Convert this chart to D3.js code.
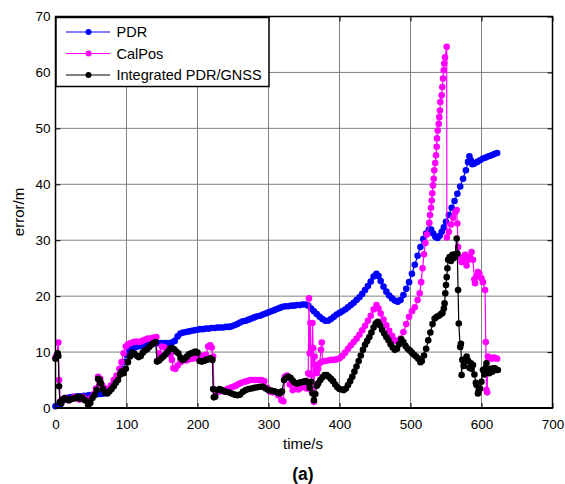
<!DOCTYPE html>
<html><head><meta charset="utf-8">
<script src="https://cdn.jsdelivr.net/npm/d3@7/dist/d3.min.js"></script>
<style>body{margin:0;background:#fff;}svg{display:block;font-family:"Liberation Sans",Arial,sans-serif;}</style>
</head><body><svg id="c" width="565" height="484"></svg>
<script>
const seriesNames = ["PDR", "CalPos", "Integrated PDR/GNSS"];
const seriesColors = ["#0000ff", "#ff00ff", "#000000"];
const xTicks = [0,100,200,300,400,500,600,700];
const yTicks = [0,10,20,30,40,50,60,70];

const pdrT = [0,3,6,9,12,16,20,24,28,32,36,40,44,48,52,56,60,64,68,72,76,80,84,88,92,96,100,104,108,112,116,120,124,128,132,136,140,144,148,152,156,160,164,168,172,176,180,184,188,192,196,200,204,208,212,216,220,224,228,232,236,240,244,248,252,256,260,264,268,272,276,280,284,288,292,296,300,304,308,312,316,320,324,328,332,336,340,344,348,352,356,360,364,368,372,376,380,384,388,392,396,400,404,408,412,416,420,424,428,432,436,440,444,448,452,455,458,462,466,470,474,478,482,486,490,494,498,502,506,510,514,518,522,526,529,532,535,538,541,544,547,550,554,558,562,566,570,574,578,581,583,585,587,590,594,598,602,606,610,614,618,622];
const pdrV = [0.3,0.4,0.5,1.2,1.6,1.8,1.9,2.0,2.0,2.1,2.1,2.2,2.2,2.3,2.3,2.4,2.5,2.5,2.6,3.0,3.5,4.0,4.8,5.6,6.8,8.2,9.5,10.3,10.6,10.8,11.0,11.1,11.2,11.3,11.4,11.5,11.6,11.6,11.6,11.6,11.6,11.6,11.7,12.0,12.8,13.3,13.5,13.6,13.7,13.8,13.9,14.0,14.1,14.1,14.2,14.2,14.3,14.3,14.4,14.4,14.4,14.5,14.5,14.6,14.8,15.0,15.3,15.5,15.6,15.8,16.0,16.2,16.4,16.5,16.7,16.9,17.1,17.3,17.5,17.7,17.9,18.1,18.2,18.2,18.3,18.3,18.4,18.4,18.5,18.5,18.3,17.8,17.3,16.8,16.3,15.9,15.6,15.6,15.9,16.3,16.7,17.0,17.3,17.6,18.0,18.4,18.8,19.3,19.8,20.4,21.1,21.8,22.6,23.5,24.0,23.6,22.7,21.7,20.8,20.1,19.6,19.2,19.0,19.3,20.2,21.3,22.5,24.0,25.6,27.2,28.8,30.2,31.2,31.9,31.9,31.2,30.6,30.4,30.8,31.5,32.3,33.3,34.5,35.8,37.0,38.3,39.6,41.0,42.5,44.0,45.0,44.3,43.6,43.7,44.0,44.3,44.6,44.8,45.0,45.2,45.4,45.6];

const calT = [0,2,4,5,7,10,14,18,22,26,30,34,38,42,46,50,54,57,60,63,66,70,74,78,82,86,90,93,96,99,102,106,110,114,118,122,126,130,134,138,142,143,146,150,154,158,162,164,166,169,172,176,180,184,188,192,196,200,204,208,212,215,218,220,222,223,226,230,234,238,242,246,250,254,258,262,266,270,274,278,282,286,290,294,298,302,306,310,314,318,321,323,326,330,334,338,342,346,350,354,356,357,358,359,360,361,362,363,364,365,366,368,370,372,374,375,376,380,384,388,392,396,400,404,408,412,416,420,424,428,432,436,440,444,448,452,455,458,462,466,470,474,478,482,486,490,494,498,502,506,510,513,515,517,519,521,523,526.5,527.5,528.9,529.9,530.7,531.7,532.7,533.5,534.9,535.9,536.9,537.3,538.3,539.7,540.6,541.5,542,543.9,544.8,545.8,546.8,547.6,548.6,551,551.2,554,557,560,563,565,566,567,569,572,575,577,579,581,583,586,588,590,591,593,595,597,600,602,605,606,607,608,609,611,614,617,620,622];
const calV = [9.0,9.5,11.7,5.0,1.2,1.5,1.8,1.4,1.6,2.0,1.7,1.5,2.0,1.6,1.0,1.8,2.5,3.5,5.6,5.2,4.0,3.5,3.2,4.0,5.0,5.8,7.0,8.2,9.8,11.0,11.4,11.6,11.8,11.9,11.8,12.0,12.2,12.4,12.4,12.6,12.7,8.4,9.8,11.0,10.8,10.0,9.5,8.6,7.1,7.0,7.6,8.2,8.6,8.5,8.7,8.8,8.9,9.1,9.2,9.4,9.5,11.0,11.2,10.8,9.2,3.3,2.8,2.9,3.2,3.0,3.4,3.6,3.8,4.0,4.3,4.5,4.7,4.8,5.0,5.0,5.0,5.0,5.0,4.8,3.6,2.9,2.8,2.9,2.3,1.4,1.2,5.6,5.8,4.2,3.2,3.4,3.3,3.6,3.8,3.5,6.2,19.6,9.8,15.2,6.0,3.0,15.2,10.7,1.1,9.2,7.7,6.2,7.0,8.0,10.4,11.7,8.3,8.4,8.5,8.6,8.6,8.7,8.9,9.3,9.9,10.6,11.2,11.8,12.4,13.1,13.9,14.7,15.6,16.5,17.6,18.4,17.8,16.9,15.8,14.8,13.8,12.9,12.1,11.9,12.4,13.6,15.0,16.3,17.3,18.0,19.3,20.5,22.5,25.0,27.5,29.5,31.0,33.1,34.5,35.8,37.1,38.4,39.8,41.0,42.5,43.8,45.2,46.7,48.2,49.6,50.8,52.0,53.2,54.7,55.9,57.4,58.9,60.4,61.6,62.7,64.6,30.5,31.5,32.8,34.0,35.0,35.4,33.0,28.8,27.0,26.1,26.8,27.4,25.5,26.5,27.0,27.9,26.5,23.0,22.3,23.5,24.3,24.0,23.2,22.5,21.1,11.8,3.2,2.8,9.2,9.0,8.8,9.0,8.9,8.8];

const intT = [0,2,3,4,5,6,8,10,13,16,19,22,25,28,31,34,37,40,43,46,49,52,55,58,60,62,64,67,70,73,76,79,82,85,88,91,93,96,99,102,105,108,111,114,117,120,123,126,129,132,135,138,141,143,146,149,152,155,158,161,164,167,170,173,176,179,182,185,188,191,194,197,200,203,206,209,212,215,218,221,222,223,225,228,231,234,237,240,244,248,252,256,260,264,268,272,276,280,284,288,292,296,300,304,308,312,316,319,322,325,328,331,334,337,340,343,346,349,352,355,358,360,362,364,366,368,370,373,376,379,382,385,388,391,394,397,400,403,406,409,412,415,418,421,424,427,430,433,436,439,442,445,448,451,454,457,460,463,466,469,472,475,478,481,484,487,490,493,496,499,502,505,508,511,514,516,519,522,525,528,531,534,537,540,543,545,547,548,549,550,551,552,553,555,557,559,561,563,565,566,567,568,570,571,572,573,575,577,579,581,583,585,586,588,590,592,593,595,596,598,600,602,604,606,607,609,611,613,615,617,619,621,623];
const intV = [8.8,9.3,9.8,9.3,3.9,1.0,0.8,1.5,1.8,1.5,1.4,1.6,1.7,1.8,2.0,1.7,1.9,1.5,1.3,0.5,0.9,1.8,2.3,3.2,5.2,5.0,4.4,3.4,2.7,2.6,3.0,3.4,3.9,4.5,5.0,6.0,6.5,6.2,7.0,8.2,9.2,9.9,9.7,9.4,9.1,9.3,9.9,10.3,10.5,10.9,11.3,11.6,11.8,8.3,8.5,8.9,9.2,9.6,10.0,10.6,10.7,10.5,10.1,9.8,9.0,8.6,8.8,9.2,9.6,9.8,9.9,10.1,9.9,8.4,8.3,8.4,8.6,8.7,8.9,8.6,3.4,1.9,2.0,3.2,3.4,3.2,3.0,2.9,2.8,2.6,2.4,2.3,2.4,2.9,3.2,3.4,3.5,3.6,3.7,3.8,3.8,3.5,3.2,3.1,3.0,2.8,2.6,3.0,5.0,5.4,5.6,5.4,4.9,4.5,4.4,4.5,4.6,4.7,4.8,4.6,3.6,4.7,2.6,1.4,2.5,4.0,4.4,5.0,5.5,5.9,5.9,5.6,5.2,4.8,4.2,3.7,3.4,3.3,3.2,3.5,4.1,4.8,5.6,6.5,7.4,8.4,9.4,10.4,11.3,12.0,12.7,13.5,14.4,15.1,15.4,14.8,14.0,13.3,12.7,12.1,11.4,10.8,10.4,10.6,11.4,12.3,11.8,11.1,10.6,10.3,9.9,9.5,9.2,8.8,8.2,8.4,9.4,10.6,12.1,13.5,15.0,16.0,16.3,16.5,16.8,17.0,17.8,18.7,20.5,22.0,23.4,25.0,26.5,27.0,26.3,27.4,26.8,27.5,30.3,27.6,21.1,15.1,10.9,11.5,5.9,8.6,7.5,8.3,9.2,8.5,7.2,8.0,7.0,7.7,6.0,4.5,4.1,2.6,3.1,3.5,4.7,6.8,6.0,7.2,8.0,6.5,6.2,7.0,6.5,7.1,7.1,6.8,6.8];

const svg = d3.select("#c");
const L = 55.5, R = 552.5, T = 16.5, B = 408;
const x = d3.scaleLinear().domain([0,700]).range([L,R]);
const y = d3.scaleLinear().domain([0,70]).range([B,T]);
const FONT = "Liberation Sans, Arial, sans-serif";

svg.append("rect").attr("width",565).attr("height",484).attr("fill","#fff");

// grid
const grid = svg.append("g").attr("stroke","#808080").attr("stroke-width",1);
xTicks.slice(1,-1).forEach(t => grid.append("line").attr("x1",x(t)).attr("x2",x(t)).attr("y1",T).attr("y2",B));
yTicks.slice(1,-1).forEach(t => grid.append("line").attr("x1",L).attr("x2",R).attr("y1",y(t)).attr("y2",y(t)));

// axes (ticks inward)
const ax = svg.append("g").attr("transform",`translate(0,${B})`)
  .call(d3.axisBottom(x).tickValues(xTicks).tickSizeInner(-5).tickSizeOuter(0).tickPadding(11));
const ay = svg.append("g").attr("transform",`translate(${L},0)`)
  .call(d3.axisLeft(y).tickValues(yTicks).tickSizeInner(-5).tickSizeOuter(0).tickPadding(5));
const axT = svg.append("g").attr("transform",`translate(0,${T})`)
  .call(d3.axisTop(x).tickValues(xTicks).tickSizeInner(-5).tickSizeOuter(0));
const ayR = svg.append("g").attr("transform",`translate(${R},0)`)
  .call(d3.axisRight(y).tickValues(yTicks).tickSizeInner(-5).tickSizeOuter(0));
[ax,ay,axT,ayR].forEach(g => { g.select(".domain").remove(); g.selectAll("line").attr("stroke","#000"); });
axT.selectAll("text").remove(); ayR.selectAll("text").remove();
[ax,ay].forEach(g => g.selectAll("text").attr("font-size",13.5).attr("font-family",FONT).attr("fill","#000"));
ay.selectAll("text").attr("x",-5);

// series
const sets = [[pdrT,pdrV],[calT,calV],[intT,intV]];
const line = d3.line().x(d=>x(d[0])).y(d=>y(d[1]));
sets.forEach((s,i) => {
  const pts = s[0].map((t,j)=>[t,s[1][j]]);
  const g = svg.append("g");
  g.append("path").attr("d",line(pts)).attr("fill","none").attr("stroke",seriesColors[i]).attr("stroke-width",1.2);
  g.selectAll("circle").data(pts).enter().append("circle")
    .attr("cx",d=>x(d[0])).attr("cy",d=>y(d[1])).attr("r",3.3).attr("fill",seriesColors[i]);
});

// box
svg.append("rect").attr("x",L).attr("y",T).attr("width",R-L).attr("height",B-T)
  .attr("fill","none").attr("stroke","#000").attr("stroke-width",1.5);
svg.append("line").attr("x1",L).attr("x2",R).attr("y1",B).attr("y2",B).attr("stroke","#000").attr("stroke-width",2);

// legend
const lg = svg.append("g");
lg.append("rect").attr("x",56).attr("y",17.5).attr("width",213).attr("height",69)
  .attr("fill","#fff").attr("stroke","#000").attr("stroke-width",1.5);
const ly = [32,53.5,75];
seriesNames.forEach((n,i) => {
  lg.append("line").attr("x1",66).attr("x2",110).attr("y1",ly[i]).attr("y2",ly[i]).attr("stroke",seriesColors[i]).attr("stroke-width",1);
  lg.append("circle").attr("cx",88.5).attr("cy",ly[i]).attr("r",3).attr("fill",seriesColors[i]);
  lg.append("text").attr("x",116.5).attr("y",ly[i]+5).attr("font-size",14.5).attr("font-family",FONT).attr("fill","#000").text(n);
});

// labels
svg.append("text").attr("x",303).attr("y",448.5).attr("text-anchor","middle").attr("font-size",15).attr("font-family",FONT).text("time/s");
svg.append("text").attr("transform","translate(24,212) rotate(-90)").attr("text-anchor","middle").attr("font-size",15).attr("font-family",FONT).text("error/m");
svg.append("text").attr("x",303).attr("y",479.5).attr("text-anchor","middle").attr("font-size",17.5).attr("font-weight","bold").attr("font-family",FONT).text("(a)");
</script></body></html>
